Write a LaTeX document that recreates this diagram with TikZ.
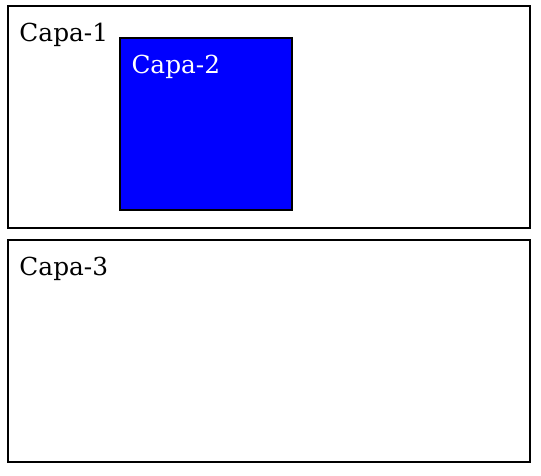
\documentclass[tikz,border=0pt]{standalone}
\usepackage{fontspec}
\setmainfont{DejaVu Serif}
\usepackage{tikz}
\usetikzlibrary{positioning}

\begin{document}
\begin{tikzpicture}[x=1pt,y=-1pt,line width=2pt,
layer/.style={draw,anchor=north west,outer sep=0pt,inner sep=0pt},
tag/.style={anchor=base west,inner sep=0pt,font=\fontsize{24.8}{28}\selectfont}]
\useasboundingbox (0,0) rectangle (541,475);
\node[layer,minimum width=522pt,minimum height=222pt] (capa1) at (8,6) {};
\node[layer,fill=blue,line width=1.6pt,minimum width=172pt,minimum height=172pt] (capa2) at (120,38) {};
\node[layer,minimum width=522pt,minimum height=222pt] (capa3) at (8,240) {};
\node[tag] (t1) at (18.5,41.5) {Capa-1};
\node[tag,text=white] (t2) at (130.5,73.5) {Capa-2};
\node[tag] (t3) at (18.5,275.5) {Capa-3};
\end{tikzpicture}
\end{document}
